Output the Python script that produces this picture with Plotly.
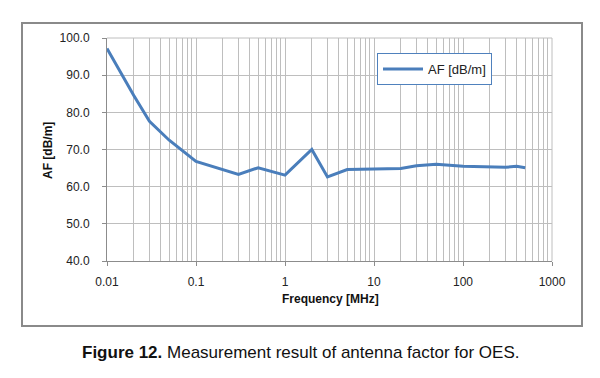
import plotly.graph_objects as go

freq_mhz = [0.01, 0.02, 0.03, 0.05, 0.1, 0.3, 0.5, 1, 2, 3, 5, 10, 20, 30, 50, 100, 200, 300, 400, 500]
af_db_m = [97.2, 84.5, 77.6, 72.5, 66.8, 63.3, 65.1, 63.1, 70.0, 62.6, 64.6, 64.8, 64.9, 65.6, 66.0, 65.5, 65.2, 65.2, 65.5, 65.1]
x_tickvals = [0.01, 0.1, 1, 10, 100, 1000]
x_ticktext = ["0.01", "0.1", "1", "10", "100", "1000"]
y_tickvals = [40, 50, 60, 70, 80, 90, 100]
y_ticktext = ["40.0", "50.0", "60.0", "70.0", "80.0", "90.0", "100.0"]

OFF = 8  # browser body margin
W, H = 600 - OFF, 378 - OFF
L, R, T, B = 107 - OFF, 552 - OFF, 38 - OFF, 261 - OFF
pw, ph = R - L, B - T

def px(xp):
    return (xp - OFF - L) / pw

def py(yp):
    return (B - (yp - OFF)) / ph

fig = go.Figure()
fig.add_trace(go.Scatter(
    x=freq_mhz, y=af_db_m, mode="lines", name="AF [dB/m]",
    line=dict(color="#4A7EBB", width=3),
))

grid = "#BEBEBE"
fig.update_layout(
    width=W, height=H,
    margin=dict(l=L, r=W - R, t=T, b=H - B, autoexpand=False),
    paper_bgcolor="white", plot_bgcolor="white",
    font=dict(family="Liberation Sans, Arial, sans-serif", size=12, color="#222"),
    showlegend=True,
    legend=dict(
        x=px(377), y=py(53), xanchor="left", yanchor="top",
        bordercolor="#4F81BD", borderwidth=1, bgcolor="white",
        font=dict(size=13, color="#222"),
        itemwidth=40,
    ),
    xaxis=dict(
        type="log", range=[-2, 3], automargin=False,
        tickvals=x_tickvals, ticktext=x_ticktext,
        showgrid=True, gridcolor=grid, gridwidth=1,
        minor=dict(showgrid=True, gridcolor=grid, gridwidth=1, dtick="D1", ticks=""),
        showline=True, linecolor="#8C8C8C", linewidth=1,
        ticks="outside", ticklen=4, tickcolor="#8C8C8C",
        ticklabelstandoff=6,
        tickfont=dict(size=12, color="#222"),
        zeroline=False,
    ),
    yaxis=dict(
        range=[40, 100], automargin=False,
        tickvals=y_tickvals, ticktext=y_ticktext,
        showgrid=True, gridcolor=grid, gridwidth=1,
        showline=True, linecolor="#8C8C8C", linewidth=1,
        ticks="outside", ticklen=4, tickcolor="#8C8C8C",
        ticklabelstandoff=10,
        tickfont=dict(size=12, color="#222"),
        zeroline=False,
    ),
    shapes=[
        dict(type="rect", xref="paper", yref="paper",
             x0=px(22), x1=px(582), y0=py(326), y1=py(23),
             line=dict(color="#8A8A8A", width=2), fillcolor="rgba(0,0,0,0)", layer="below"),
        dict(type="line", xref="paper", yref="paper",
             x0=1, x1=1, y0=0, y1=1, line=dict(color=grid, width=1), layer="below"),
        dict(type="line", xref="paper", yref="paper",
             x0=0, x1=1, y0=1, y1=1, line=dict(color=grid, width=1), layer="below"),
    ],
    annotations=[
        dict(xref="paper", yref="paper", x=px(48), y=py(150),
             xanchor="center", yanchor="middle", showarrow=False, textangle=-90,
             text="<b>AF [dB/m]</b>", font=dict(size=12, color="#111")),
        dict(xref="paper", yref="paper", x=px(330), y=py(299),
             xanchor="center", yanchor="middle", showarrow=False,
             text="<b>Frequency [MHz]</b>", font=dict(size=12, color="#111")),
        dict(xref="paper", yref="paper", x=px(301), y=py(352),
             xanchor="center", yanchor="middle", showarrow=False,
             text="<b>Figure 12.</b> Measurement result of antenna factor for OES.",
             font=dict(family="Liberation Sans Narrow, Arial Narrow, sans-serif", size=17, color="#111")),
    ],
)

fig.write_html("out.html")
